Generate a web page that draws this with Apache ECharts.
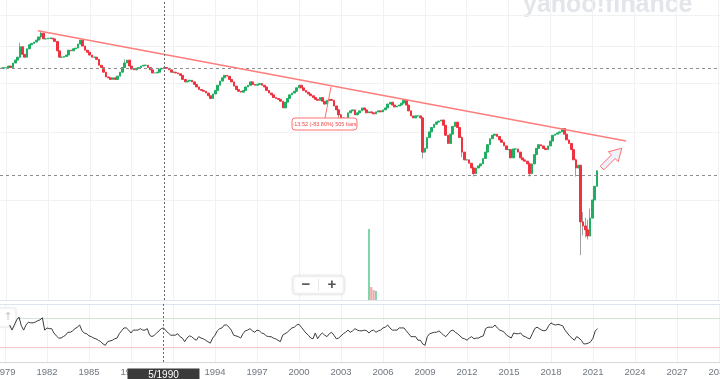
<!DOCTYPE html>
<html><head><meta charset="utf-8">
<script src="https://cdn.jsdelivr.net/npm/echarts@6/dist/echarts.min.js"></script>
<style>html,body{margin:0;padding:0;background:#fff}#c{width:720px;height:379px}</style>
</head><body><div id="c"></div>
<script>
// ---- data (bimonthly bars, first bar Sep 1978) ----
const startYear = 1978, startMonth = 9, stepMonths = 2;
const closes = [
21.9, 22.0,
22.0, 22.2, 22.0, 22.6, 23.0, 23.4,
24.9, 23.8, 23.4, 24.6, 25.2, 25.4,
25.6, 25.9, 26.4, 27.0, 26.1, 26.1,
26.2, 26.2, 26.1, 25.7, 24.3, 23.4,
23.4, 23.5, 23.7, 24.4, 24.3, 24.6,
24.7, 25.3, 25.9, 25.0, 24.4, 24.1,
23.7, 23.4, 23.4, 23.1, 22.3, 22.0,
21.4, 20.8, 20.7, 20.5, 20.7, 20.5,
20.9, 21.4, 22.0, 22.6, 23.0, 22.2,
21.8, 21.7, 21.9, 22.0, 22.2, 22.3,
22.3, 22.0, 21.7, 21.3, 21.3, 21.4,
21.8, 21.9, 22.0, 21.9, 21.7, 21.4,
21.4, 21.3, 21.2, 21.0, 20.5, 20.2,
20.3, 20.4, 20.2, 19.9, 19.6, 19.3,
19.2, 19.1, 18.9, 18.6, 18.3, 18.8,
19.2, 19.8, 20.3, 20.7, 21.0, 20.9,
20.5, 20.2, 19.7, 19.3, 19.1, 19.0,
19.2, 19.6, 19.8, 20.2, 19.9, 19.8,
19.9, 20.0, 19.8, 19.6, 19.2, 18.9,
18.7, 18.4, 18.3, 18.2, 18.0, 17.3,
17.9, 18.3, 18.7, 18.9, 19.1, 19.5,
19.8, 19.5, 19.2, 19.0, 18.8, 18.6,
18.4, 18.2, 18.1, 18.4, 18.0, 17.7,
18.1, 18.2, 18.1, 17.5, 17.1, 16.6,
16.3, 16.2, 16.1, 16.8, 17.0, 17.1,
16.6, 16.8, 17.0, 17.3, 17.1, 16.8,
16.9, 16.8, 16.7, 16.9, 17.0, 16.9,
17.1, 17.3, 17.7, 17.9, 17.6, 17.4,
17.5, 17.6, 17.8, 18.1, 17.6, 17.0,
16.5, 16.3, 16.5, 16.5, 16.3, 13.3,
13.6, 14.5, 15.0, 15.4, 15.7, 15.9,
16.0, 16.1, 15.6, 14.7, 14.0, 14.8,
15.5, 15.9, 15.4, 14.5, 13.3, 12.7,
12.7, 12.45, 12.1, 11.7, 12.1, 12.25,
12.4, 12.8, 13.3, 13.9, 14.4, 14.7,
14.8, 14.6, 14.3, 14.1, 13.8, 13.5,
13.5, 12.85, 13.55, 13.55, 13.3, 12.85,
12.7, 12.6, 12.4, 11.7, 12.4, 13.1,
13.6, 13.9, 13.8, 13.6, 13.5, 13.8,
14.2, 14.7, 14.8, 14.9, 15.0, 15.3,
14.8, 14.3, 14.0, 13.5, 12.7, 12.1,
12.3, 8.78, 8.57, 8.37, 8.07, 8.98,
10.0, 10.85, 11.9
];
const rsi = [
null, null,
null, null, 61, 54, 61, 68,
72, 60, 54, 61, 65, 64,
64, 65, 67, 68, 71, 54,
57, 56, 56, 50, 46, 43,
43, 45, 47, 51, 51, 53,
56, 58, 61, 53, 50, 49,
46, 45, 43, 42, 40, 38,
35, 33, 38, 39, 40, 42,
43, 49, 53, 57, 57, 54,
50, 54, 54, 54, 56, 54,
54, 56, 47, 45, 47, 50,
53, 56, 57, 53, 50, 47,
47, 47, 49, 45, 43, 38,
43, 46, 45, 42, 40, 45,
43, 42, 40, 38, 36, 43,
47, 53, 56, 57, 61, 61,
58, 54, 47, 46, 45, 43,
49, 53, 54, 56, 53, 51,
54, 53, 50, 49, 46, 45,
45, 43, 42, 40, 38, 47,
49, 51, 54, 57, 58, 61,
62, 58, 54, 50, 47, 43,
42, 50, 42, 47, 50, 47,
45, 49, 51, 47, 42, 43,
46, 49, 51, 54, 51, 53,
56, 54, 53, 53, 54, 53,
50, 53, 54, 51, 53, 54,
57, 58, 61, 57, 54, 54,
54, 57, 57, 57, 53, 49,
45, 45, 45, 40, 40, 35,
33, 45, 49, 50, 51, 51,
53, 50, 47, 45, 49, 53,
54, 51, 49, 46, 43, 42,
40, 43, 45, 42, 43, 43,
45, 46, 56, 58, 58, 58,
61, 57, 54, 53, 51, 47,
45, 43, 50, 49, 49, 50,
46, 45, 43, 42, 49, 56,
58, 56, 54, 53, 54, 60,
64, 62, 61, 62, 61, 60,
54, 50, 46, 43, 40, 45,
43, 40, 35, 35, 36, 38,
43, 53, 56
];
// [date, low, high] for visible wicks
const wicks = [
['1980-01-01', 23.3, 25.5], ['1981-07-01', 26.0, 27.4], ['1987-07-01', 22.0, 23.1],
['2002-11-01', 16.2, 17.2], ['2003-01-01', 15.9, 16.7], ['2008-11-01', 12.8, 16.4],
['2011-09-01', 12.9, 14.6], ['2012-07-01', 11.5, 12.2], ['2016-07-01', 11.5, 12.5],
['2019-11-01', 11.5, 12.8], ['2020-03-01', 7.2, 12.3], ['2020-05-01', 8.1, 9.3],
['2020-07-01', 8.0, 9.0], ['2020-09-01', 7.9, 8.9], ['2020-11-01', 8.4, 9.5]
];
const volume = [['2005-01-01', 71], ['2005-03-01', 13], ['2005-05-01', 10], ['2005-07-01', 9]];
const yearTicks = [1979,1982,1985,1988,1991,1994,1997,2000,2003,2006,2009,2012,2015,2018,2021,2024,2027,2030];
const priceGridValues = [10, 15, 20, 25, 30];
const trendLine = [['1981-04-15', 27.4], ['2023-06-01', 14.2]];
const crossDate = [1990, 5];
const crossPrice = 21.9;
const lastPrice = 11.6;
const rsiLevels = [70, 30];
const measureText = '-13.52 (-83.80%) 505 bars';

// ---- build ----
const pad = n => (n < 10 ? '0' : '') + n;
const dates = closes.map((_, i) => {
  const m = startMonth - 1 + i * stepMonths;
  return (startYear + Math.floor(m / 12)) + '-' + pad(m % 12 + 1) + '-01';
});
const idx = {}; dates.forEach((d, i) => idx[d] = i);
const opens = closes.map((c, i) => i === 0 ? c : closes[i - 1]);
const bodies = closes.map((c, i) => [dates[i], opens[i], c, Math.min(opens[i], c), Math.max(opens[i], c)]);
const wickData = wicks.map(w => [w[0], w[1], w[1], w[1], w[2]]);
const GREEN = '#1fae62', RED = '#ee3340';
const volData = volume.map(v => {
  const i = idx[v[0]];
  const up = closes[i] >= opens[i];
  return { value: [v[0], v[1]], itemStyle: { color: up ? '#7fd6a6' : '#f4a3a6' } };
});
const tickTimes = yearTicks.map(y => new Date(y, 0, 1).getTime());
const xMin = new Date(1978, 7, 23).getTime(), xMax = new Date(2030, 0, 27).getTime();
const crossT = new Date(crossDate[0], crossDate[1] - 1, 1).getTime();
const rsiData = rsi.map((v, i) => [dates[i], v]);

const vGrid = tickTimes.map(t => ({ xAxis: t }));
const ml = (data, color, type, z, width) => ({
  silent: true, symbol: 'none', z: z, animation: false,
  label: { show: false },
  lineStyle: { color: color, type: type, width: width || 1 },
  data: data
});

const chart = echarts.init(document.getElementById('c'), null, { renderer: 'canvas' });
chart.setOption({
  animation: false,
  grid: [
    { left: 0, right: 0, top: 0, height: 300, outerBoundsMode: 'none', containLabel: false },
    { left: 0, right: 0, top: 304, height: 58, outerBoundsMode: 'none', containLabel: false }
  ],
  xAxis: [
    { type: 'time', gridIndex: 0, min: xMin, max: xMax, show: false },
    { type: 'time', gridIndex: 1, min: xMin, max: xMax, show: false },
    { type: 'value', gridIndex: 1, min: xMin, max: xMax, position: 'bottom',
      axisLine: { show: true, onZero: false, lineStyle: { color: '#d6d9dc' } },
      axisTick: { show: false }, splitLine: { show: false },
      axisLabel: { customValues: tickTimes, formatter: v => String(new Date(v).getFullYear()),
        color: '#6f777f', fontSize: 9.5, margin: 5, fontFamily: 'Liberation Sans, Arial, sans-serif', hideOverlap: false } }
  ],
  yAxis: [
    { type: 'log', gridIndex: 0, min: 5.514, max: 32.89, show: false },
    { type: 'value', gridIndex: 0, min: 0, max: 300, show: false },
    { type: 'value', gridIndex: 1, min: 10, max: 90, show: false }
  ],
  series: [
    { type: 'bar', name: 'volume', xAxisIndex: 0, yAxisIndex: 1, barWidth: 2, z: 2, data: volData,
      markLine: ml(vGrid, '#f0f1f2', 'solid', 1) },
    { type: 'line', name: 'priceGrid', xAxisIndex: 0, yAxisIndex: 0, data: [],
      markLine: ml(priceGridValues.map(v => ({ yAxis: v })), '#f0f1f2', 'solid', 1) },
    { type: 'candlestick', name: 'wicks', xAxisIndex: 0, yAxisIndex: 0, barWidth: 1, z: 3,
      encode: { x: 0, y: [1, 2, 3, 4] },
      itemStyle: { color: '#a0a0a0', color0: '#a0a0a0', borderColor: '#a0a0a0', borderColor0: '#a0a0a0', borderWidth: 1 },
      data: wickData,
      markLine: ml([{ yAxis: crossPrice }, { yAxis: lastPrice }], '#8e8e8e', [3, 3], 6) },
    { type: 'candlestick', name: 'price', xAxisIndex: 0, yAxisIndex: 0, barWidth: 2.2, z: 4,
      encode: { x: 0, y: [1, 2, 3, 4] },
      itemStyle: { color: GREEN, color0: RED, borderColor: GREEN, borderColor0: RED, borderWidth: 1 },
      data: bodies,
      markLine: ml([[{ coord: trendLine[0] }, { coord: trendLine[1] }]], '#ff7d7d', 'solid', 7, 1.5) },
    { type: 'line', name: 'cross', xAxisIndex: 0, yAxisIndex: 0, data: [],
      markLine: ml([{ xAxis: crossT }], '#6a6a6a', [2, 2], 8) },
    { type: 'line', name: 'rsi', xAxisIndex: 1, yAxisIndex: 2, z: 4, symbol: 'none', showSymbol: false,
      lineStyle: { color: '#3c3c3c', width: 1 }, data: rsiData,
      markLine: ml(vGrid, '#f0f1f2', 'solid', 1) },
    { type: 'line', name: 'rsiLevels', xAxisIndex: 1, yAxisIndex: 2, data: [],
      markLine: { silent: true, symbol: 'none', z: 2, label: { show: false },
        data: [{ yAxis: rsiLevels[0], lineStyle: { color: '#cfe8d8', type: 'solid', width: 1 } },
               { yAxis: rsiLevels[1], lineStyle: { color: '#f6caca', type: 'solid', width: 1 } }] } },
    { type: 'line', name: 'rsiCross', xAxisIndex: 1, yAxisIndex: 2, data: [],
      markLine: ml([{ xAxis: crossT }], '#6a6a6a', [2, 2], 8) }
  ],
  graphic: [
    { type: 'text', left: 523, top: -7, z: 0, silent: true,
      style: { text: 'yahoo!finance', font: 'bold 25px "Liberation Sans", Arial, sans-serif', fill: '#e2e5ea' } },
    { type: 'line', z: 5, shape: { x1: 0, y1: 300.5, x2: 720, y2: 300.5 }, style: { stroke: '#dfe5ec', lineWidth: 1 } },
    { type: 'line', z: 5, shape: { x1: 0, y1: 304.5, x2: 720, y2: 304.5 }, style: { stroke: '#dfe5ec', lineWidth: 1 } },
    { type: 'line', z: 20, shape: { x1: 331, y1: 87, x2: 325, y2: 118 }, style: { stroke: '#ff6f6f', lineWidth: 1 } },
    { type: 'rect', z: 20, shape: { x: 292, y: 118, width: 65, height: 12, r: 3 }, style: { fill: '#ffffff', stroke: '#ff7373', lineWidth: 1 } },
    { type: 'text', z: 21, x: 324.5, y: 124, style: { text: measureText, fill: '#f04a4a', font: '5.5px "Liberation Sans", Arial, sans-serif', align: 'center', verticalAlign: 'middle' } },
    { type: 'polygon', z: 20, shape: { points: [[603.8,169.8],[615.1,158.5],[618.2,161.6],[621.8,148.2],[608.4,151.8],[611.5,154.9],[600.2,166.2]] },
      style: { fill: '#eef2fb', stroke: '#ff6b6b', lineWidth: 1 } },
    { type: 'rect', z: 20, shape: { x: 293, y: 276, width: 51, height: 18, r: 3 },
      style: { fill: '#ffffff', stroke: '#e6e8ea', lineWidth: 1, shadowBlur: 3, shadowColor: 'rgba(0,0,0,0.12)' } },
    { type: 'line', z: 21, shape: { x1: 318.5, y1: 279, x2: 318.5, y2: 291 }, style: { stroke: '#e6e8ea', lineWidth: 1 } },
    { type: 'text', z: 21, x: 306, y: 285, style: { text: '−', fill: '#555', font: 'bold 15px "Liberation Sans", Arial, sans-serif', align: 'center', verticalAlign: 'middle' } },
    { type: 'text', z: 21, x: 332, y: 285, style: { text: '+', fill: '#555', font: 'bold 15px "Liberation Sans", Arial, sans-serif', align: 'center', verticalAlign: 'middle' } },
    { type: 'rect', z: 3, shape: { x: -2, y: 308, width: 18, height: 19, r: 2 },
      style: { fill: '#ffffff', stroke: '#eceef0', lineWidth: 1, shadowBlur: 2, shadowColor: 'rgba(0,0,0,0.08)' } },
    { type: 'text', z: 4, x: 8, y: 317.5, style: { text: '↑', fill: '#c4c8cc', font: '11px "DejaVu Sans", sans-serif', align: 'center', verticalAlign: 'middle' } },
    { type: 'rect', z: 30, shape: { x: 127.5, y: 368.5, width: 72, height: 12 }, style: { fill: '#3a3a3a' } },
    { type: 'text', z: 31, x: 163.5, y: 375, style: { text: crossDate[1] + '/' + crossDate[0], fill: '#ffffff', font: '10px "Liberation Sans", Arial, sans-serif', align: 'center', verticalAlign: 'middle' } }
  ]
});
</script>
</body></html>
